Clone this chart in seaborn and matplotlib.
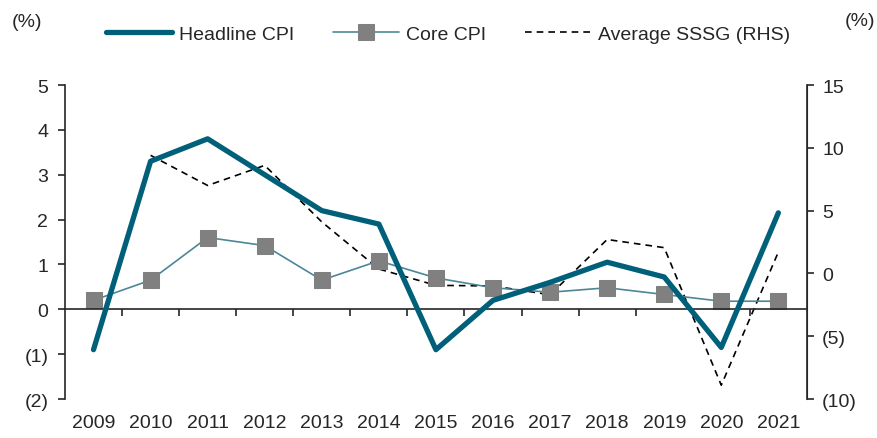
import matplotlib
matplotlib.use("Agg")
import matplotlib.pyplot as plt
import seaborn as sns
import pandas as pd
from matplotlib.ticker import FixedLocator, FuncFormatter

years = ["2009", "2010", "2011", "2012", "2013", "2014", "2015",
         "2016", "2017", "2018", "2019", "2020", "2021"]
headline_cpi = [-0.9, 3.3, 3.8, 3.0, 2.2, 1.9, -0.9, 0.2, 0.6, 1.05, 0.72, -0.85, 2.15]
core_cpi = [0.2, 0.65, 1.6, 1.42, 0.65, 1.08, 0.7, 0.48, 0.38, 0.48, 0.33, 0.18, 0.18]
sssg = [None, 9.4, 7.0, 8.6, 4.1, 0.35, -0.95, -1.0, -1.7, 2.7, 2.05, -8.9, 1.7]

df = pd.DataFrame({"idx": range(len(years)), "year": years,
                   "headline": headline_cpi, "core": core_cpi, "sssg": sssg})

sns.set_style("ticks")
plt.rcParams["font.family"] = ["Liberation Sans", "DejaVu Sans"]
fs = 14
plt.rcParams["font.size"] = fs

teal = "#00607a"
core_col = "#4b8797"

fig = plt.figure(figsize=(8.78, 4.39), dpi=100)
ax = fig.add_axes([0.074, 0.0888, 0.845, 0.7153])
ax2 = ax.twinx()

sns.lineplot(data=df, x="idx", y="headline", ax=ax, color=teal, linewidth=3.8,
             label="Headline CPI", legend=False, zorder=3)
sns.lineplot(data=df, x="idx", y="core", ax=ax, color=core_col, linewidth=1.2,
             marker="s", markersize=11, markerfacecolor="#808080",
             markeredgecolor="#808080", label="Core CPI", legend=False, zorder=2)
sns.lineplot(data=df.dropna(), x="idx", y="sssg", ax=ax2, color="black",
             linewidth=1.2, linestyle=(0, (4, 3)), label="Average SSSG (RHS)",
             legend=False)
ax.set_zorder(ax2.get_zorder() + 1)
ax.patch.set_visible(False)

def paren(v, pos):
    v = int(round(v))
    return f"({abs(v)})" if v < 0 else f"{v}"

ax.set_xlim(-0.5, len(years) - 0.5)
ax.set_ylim(-2, 5)
ax.set_yticks(range(-2, 6))
ax.yaxis.set_major_formatter(FuncFormatter(paren))
ax2.set_ylim(-10, 15)
ax2.set_yticks(range(-10, 16, 5))
ax2.yaxis.set_major_formatter(FuncFormatter(paren))

ax.spines["bottom"].set_position(("data", 0))
ax.spines["top"].set_visible(False)
ax2.spines["top"].set_visible(False)
ax2.spines["bottom"].set_visible(False)
for s in ["left", "bottom"]:
    ax.spines[s].set_linewidth(1.2)
ax2.spines["right"].set_linewidth(1.2)
ax2.spines["left"].set_visible(False)

ax.set_xticks(range(len(years)))
ax.tick_params(axis="x", which="major", length=0, labelbottom=False)
ax.xaxis.set_minor_locator(FixedLocator([i + 0.5 for i in range(len(years) - 1)]))
ax.tick_params(axis="x", which="minor", length=5, width=1.2, direction="out")
ax.tick_params(axis="y", length=5, width=1.2, labelsize=fs, pad=7)
ax2.tick_params(axis="y", length=5, width=1.2, labelsize=fs, pad=6)

sec = ax.secondary_xaxis(0)
sec.set_xticks(range(len(years)))
sec.set_xticklabels(years)
sec.tick_params(length=0, labelsize=fs, pad=11)
sec.spines["bottom"].set_visible(False)

ax.set_xlabel("")
ax.set_ylabel("")
ax2.set_ylabel("")

fig.text(0.031, 0.948, "(%)", fontsize=fs, ha="center", va="center")
fig.text(0.979, 0.952, "(%)", fontsize=fs, ha="center", va="center")

h1, l1 = ax.get_legend_handles_labels()
h2, l2 = ax2.get_legend_handles_labels()
fig.legend(h1 + h2, l1 + l2, loc="center", bbox_to_anchor=(0.51, 0.92), ncol=3,
           frameon=False, fontsize=fs, handlelength=3.4, columnspacing=2.0,
           handletextpad=0.35)

fig.savefig("out.png", dpi=100)
